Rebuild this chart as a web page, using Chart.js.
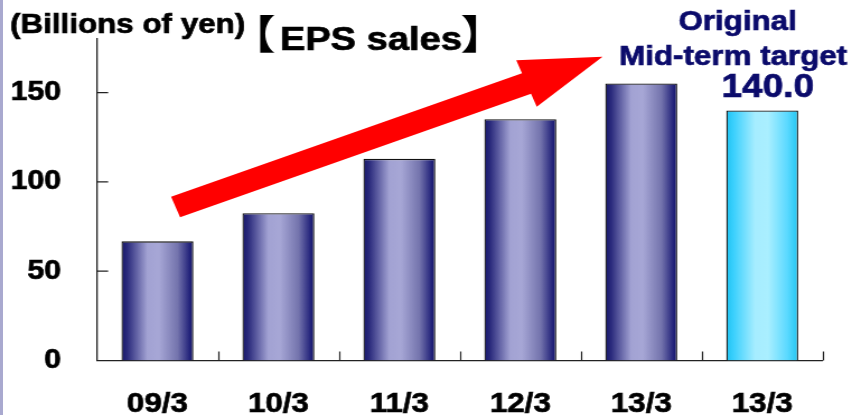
<!DOCTYPE html>
<html>
<head>
<meta charset="utf-8">
<script src="https://cdn.jsdelivr.net/npm/chart.js@4.4.1/dist/chart.umd.min.js"></script>
<style>
  html, body { margin: 0; padding: 0; overflow: hidden; }
  body {
    width: 852px; height: 415px;
    background: linear-gradient(to right, #a9a9cf 0, #a9a9cf 3px, #fff 3px);
  }
  /* the slide artwork is a little wider than tall, so the chart is laid out narrow and stretched */
  #wrap {
    width: 761px; height: 415px;
    transform: scaleX(1.1196);
    transform-origin: 0 0;
  }
</style>
</head>
<body>
<div id="wrap"><canvas id="myChart"></canvas></div>
<script>
// Fiscal years along the x-axis (last bar is the original mid-term target)
var years = ['09/3', '10/3', '11/3', '12/3', '13/3', '13/3'];
// EPS sales, billions of yen
var sales = [66.7, 82.5, 112.9, 135.1, 155.1, 140.0];
var barKind = ['actual', 'actual', 'actual', 'actual', 'actual', 'target'];
// Y-axis ticks
var yTicks = [0, 50, 100, 150];
var targetCaption = ['Original', 'Mid-term target'];

var FONT = 'Liberation Sans, Arial, sans-serif';
var NAVY = '#0b0b6b';
var HEAVY = 0.7;   // extra outline so the bold type reads heavier

function barGradient(ctx, left, right, kind) {
  var g = ctx.createLinearGradient(left, 0, right, 0);
  if (kind === 'target') {
    g.addColorStop(0, '#1fc3f2');
    g.addColorStop(0.1, '#3ad0fd');
    g.addColorStop(0.4, '#a6edff');
    g.addColorStop(0.58, '#aaefff');
    g.addColorStop(0.85, '#5ad9ff');
    g.addColorStop(1, '#22c6f2');
  } else {
    g.addColorStop(0, '#16166b');
    g.addColorStop(0.08, '#2a2a7c');
    g.addColorStop(0.36, '#a2a2d3');
    g.addColorStop(0.52, '#a7a7d6');
    g.addColorStop(0.78, '#7474ad');
    g.addColorStop(0.95, '#22227a');
    g.addColorStop(1, '#131367');
  }
  return g;
}

// shaded fills need the bar's pixel extent, so set them just before drawing
var shading = {
  id: 'shading',
  beforeDatasetDraw: function (chart, args) {
    args.meta.data.forEach(function (bar, i) {
      var half = bar.width / 2;
      bar.options.backgroundColor = barGradient(chart.ctx, bar.x - half, bar.x + half, barKind[i]);
    });
  }
};

// tick marks drawn on the inside of both axes
var innerTicks = {
  id: 'innerTicks',
  afterDatasetsDraw: function (chart) {
    var ctx = chart.ctx, x = chart.scales.x, y = chart.scales.y, area = chart.chartArea;
    ctx.save();
    ctx.strokeStyle = '#222';
    ctx.lineWidth = 1.2;
    ctx.beginPath();
    yTicks.forEach(function (v) {
      var py = y.getPixelForValue(v);
      ctx.moveTo(area.left, py);
      ctx.lineTo(area.left + 10, py);
    });
    for (var i = 1; i <= years.length; i++) {
      var px = Math.round(x.getPixelForValue(i - 0.5)) + 0.5;
      ctx.moveTo(px, area.bottom);
      ctx.lineTo(px, area.bottom - 9);
    }
    ctx.stroke();
    ctx.restore();
  }
};

// red growth arrow, anchored in data units
var arrowFrom = [0.15, 86];
var arrowTo = [3.68, 170];
var growthArrow = {
  id: 'growthArrow',
  afterDatasetsDraw: function (chart) {
    var ctx = chart.ctx, x = chart.scales.x, y = chart.scales.y;
    var ax = x.getPixelForValue(arrowFrom[0]), ay = y.getPixelForValue(arrowFrom[1]);
    var bx = x.getPixelForValue(arrowTo[0]), by = y.getPixelForValue(arrowTo[1]);
    var len = Math.hypot(bx - ax, by - ay);
    var ux = (bx - ax) / len, uy = (by - ay) / len;
    var nx = -uy, ny = ux;
    var w = 11, headLen = 73, headW = 25;
    var cx = bx - ux * headLen, cy = by - uy * headLen;
    ctx.save();
    ctx.fillStyle = '#ff0000';
    ctx.beginPath();
    ctx.moveTo(ax + nx * w, ay + ny * w);
    ctx.lineTo(cx + nx * w, cy + ny * w);
    ctx.lineTo(cx + nx * headW, cy + ny * headW);
    ctx.lineTo(bx, by);
    ctx.lineTo(cx - nx * headW, cy - ny * headW);
    ctx.lineTo(cx - nx * w, cy - ny * w);
    ctx.lineTo(ax - nx * w, ay - ny * w);
    ctx.closePath();
    ctx.fill();
    ctx.restore();
  }
};

function heavyText(ctx, s, x, y) {
  ctx.fillText(s, x, y);
  ctx.strokeText(s, x, y);
}

function drawBracket(ctx, ch, inkLeft, inkTop, inkHeight) {
  ctx.font = 'bold 100px "Noto Sans CJK JP"';
  var m = ctx.measureText(ch);
  var size = 100 * inkHeight / (m.actualBoundingBoxAscent + m.actualBoundingBoxDescent);
  ctx.font = 'bold ' + size + 'px "Noto Sans CJK JP"';
  m = ctx.measureText(ch);
  ctx.fillText(ch, inkLeft + m.actualBoundingBoxLeft, inkTop + m.actualBoundingBoxAscent);
}

// unit caption, heading and the target annotation
var captions = {
  id: 'captions',
  afterDraw: function (chart) {
    var ctx = chart.ctx;
    ctx.save();
    ctx.fillStyle = '#000';
    ctx.strokeStyle = '#000';
    ctx.lineWidth = HEAVY;
    ctx.textAlign = 'left';
    ctx.textBaseline = 'alphabetic';
    ctx.font = 'bold 28px ' + FONT;
    heavyText(ctx, '(Billions of yen)', 9, 33);
    drawBracket(ctx, '【', 232, 15, 38);
    drawBracket(ctx, '】', 412.5, 15, 38);
    ctx.font = 'bold 34px ' + FONT;
    heavyText(ctx, 'EPS sales', 250, 50);

    var meta = chart.getDatasetMeta(0);
    var t = barKind.indexOf('target');
    var bar = meta.data[t];
    ctx.fillStyle = NAVY;
    ctx.strokeStyle = NAVY;
    ctx.textAlign = 'center';
    ctx.font = 'bold 33px ' + FONT;
    heavyText(ctx, sales[t].toFixed(1), bar.x + 5, bar.y - 13);
    ctx.font = 'bold 28px ' + FONT;
    heavyText(ctx, targetCaption[1], bar.x - 26, bar.y - 45);
    heavyText(ctx, targetCaption[0], bar.x - 22, bar.y - 80);
    ctx.restore();
  }
};

var ctx = document.getElementById('myChart');
var myChart = new Chart(ctx, {
  type: 'bar',
  data: {
    labels: years,
    datasets: [{
      data: sales,
      // a function keeps every bar's options separate, so each can get its own shading
      backgroundColor: function () { return '#9999cc'; },
      borderColor: '#111',
      borderWidth: 1.3,
      barPercentage: 0.595,
      categoryPercentage: 1
    }]
  },
  options: {
    responsive: true,
    maintainAspectRatio: false,
    animation: false,
    layout: { padding: { left: 0, right: 26.2, top: 39, bottom: 0 } },
    plugins: {
      legend: { display: false },
      tooltip: { enabled: false }
    },
    scales: {
      x: {
        grid: { display: false, drawTicks: false },
        border: { display: true, color: '#222', width: 1.3 },
        ticks: {
          color: '#000',
          textStrokeColor: '#000',
          textStrokeWidth: HEAVY,
          padding: 27,
          maxRotation: 0,
          autoSkip: false,
          font: { family: FONT, size: 28, weight: 'bold' }
        },
        afterFit: function (scale) {
          scale.height = 54.5;
          scale.paddingLeft = 0;
          scale.paddingRight = 0;
        }
      },
      y: {
        min: 0,
        max: 180,
        grid: { display: false, drawTicks: false },
        border: { display: true, color: '#222', width: 1.3 },
        ticks: {
          stepSize: 50,
          color: '#000',
          textStrokeColor: '#000',
          textStrokeWidth: HEAVY,
          padding: 32,
          font: { family: FONT, size: 27, weight: 'bold' }
        },
        afterBuildTicks: function (scale) {
          scale.ticks = yTicks.map(function (v) { return { value: v }; });
        },
        afterFit: function (scale) {
          scale.width = 86.6;
          scale.paddingTop = 0;
          scale.paddingBottom = 0;
        }
      }
    }
  },
  plugins: [shading, growthArrow, innerTicks, captions]
});
</script>
</body>
</html>
